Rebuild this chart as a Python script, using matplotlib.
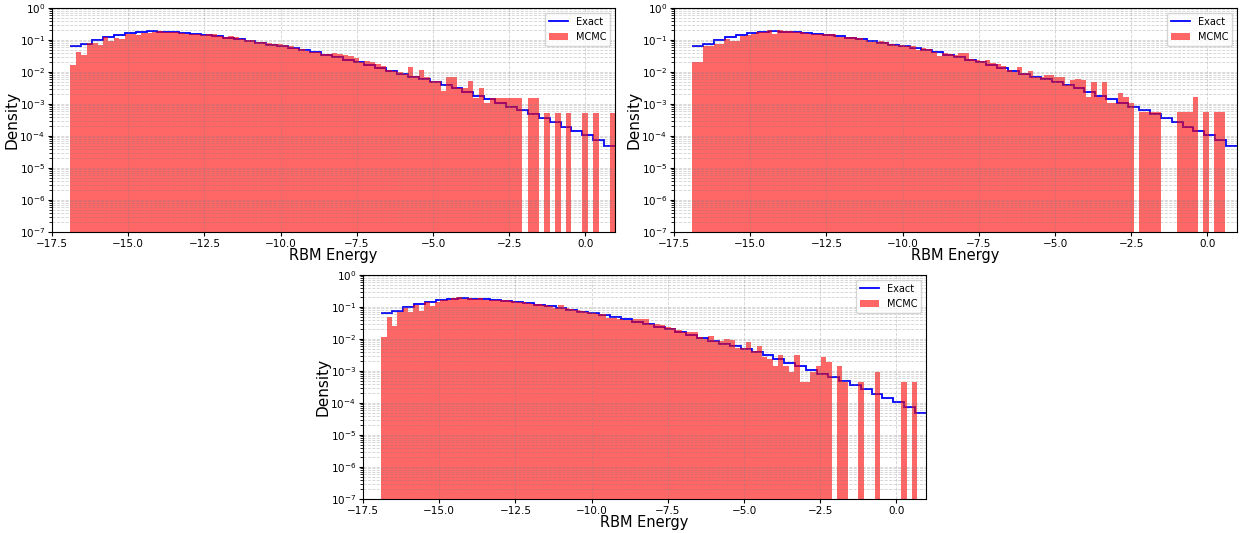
import numpy as np
import matplotlib
matplotlib.use("Agg")
import matplotlib.pyplot as plt

# energy range of the RBM (lowest state, highest state)
E_MIN = -16.9
E_MAX = 0.97

# exact Boltzmann density, 50 bins over [E_MIN, E_MAX]
exact_density = [
    0.063, 0.076, 0.098, 0.120, 0.148, 0.170, 0.182, 0.186, 0.182, 0.178,
    0.170, 0.158, 0.148, 0.132, 0.117, 0.110, 0.093, 0.083, 0.072, 0.063,
    0.055, 0.049, 0.042, 0.035, 0.029, 0.024, 0.020, 0.0166, 0.0132, 0.0107,
    0.0087, 0.0071, 0.0059, 0.0048, 0.0038, 0.0031, 0.0024, 0.0018, 0.00145, 0.0011,
    0.00083, 0.00063, 0.00049, 0.00037, 0.00027, 0.000195, 0.000141, 0.000105, 0.000076, 0.000047,
]

# MCMC sample counts, 100 bins over [E_MIN, max sampled energy] for each run
mcmc_max = [0.97, 0.56, 0.69]

mcmc_counts_1 = [
    31, 83, 66, 151, 158, 135, 229, 174, 224, 209,
    288, 301, 275, 324, 316, 331, 355, 339, 339, 331,
    316, 301, 301, 288, 275, 288, 301, 263, 240, 246,
    229, 209, 186, 186, 170, 162, 151, 148, 145, 132,
    120, 107, 98, 89, 83, 78, 72, 69, 76, 72,
    65, 60, 52, 38, 42, 38, 33, 29, 22, 21,
    19, 16, 27, 14, 22, 13, 10, 10, 5, 13,
    13, 6, 6, 10, 3, 6, 2, 3, 3, 3,
    3, 3, 3, 0, 3, 3, 0, 1, 0, 1,
    0, 1, 0, 0, 1, 0, 1, 0, 0, 1,
]

mcmc_counts_2 = [
    39, 39, 120, 120, 135, 141, 191, 174, 166, 245,
    263, 288, 316, 331, 363, 288, 363, 339, 339, 316,
    316, 302, 288, 288, 276, 276, 288, 234, 224, 234,
    224, 214, 178, 162, 155, 170, 155, 135, 129, 132,
    120, 115, 91, 100, 96, 76, 59, 72, 65, 63,
    71, 71, 46, 42, 40, 42, 36, 32, 29, 21,
    18, 26, 17, 20, 13, 13, 15, 15, 13, 13,
    7, 10, 11, 10, 3, 9, 3, 9, 2, 2,
    4, 3, 2, 0, 1, 1, 1, 1, 0, 0,
    0, 1, 1, 1, 3, 0, 1, 0, 1, 1,
]

mcmc_counts_3 = [
    24, 102, 54, 153, 195, 145, 246, 166, 302, 224,
    302, 347, 363, 398, 427, 380, 398, 380, 417, 363,
    363, 347, 347, 347, 331, 316, 302, 289, 272, 258,
    246, 224, 195, 246, 195, 186, 178, 162, 145, 138,
    132, 132, 100, 96, 91, 81, 81, 91, 87, 87,
    63, 63, 59, 50, 46, 42, 36, 36, 36, 24,
    21, 27, 19, 19, 22, 20, 11, 11, 17, 9,
    13, 6, 5, 3, 7, 3, 2, 7, 1, 1,
    2, 3, 6, 4, 0, 3, 1, 0, 0, 1,
    0, 0, 2, 0, 0, 0, 0, 1, 0, 1,
]

runs = [mcmc_counts_1, mcmc_counts_2, mcmc_counts_3]

W, H = 1251, 533
fig = plt.figure(figsize=(W / 100, H / 100), dpi=100)
# axes boxes in pixels: left, top, width, height
boxes = [(52, 8, 563, 224), (674, 8, 563, 224), (363, 275, 563, 224)]

exact_edges = np.linspace(E_MIN, E_MAX, len(exact_density) + 1)

for (l, t, w, h), counts, top in zip(boxes, runs, mcmc_max):
    ax = fig.add_axes([l / W, 1 - (t + h) / H, w / W, h / H])
    ax.set_yscale('log')

    # exact distribution as an outline, MCMC bars drawn on top of it
    ax.stairs(exact_density, exact_edges, baseline=None,
              color='blue', linewidth=1.3, label='Exact')

    edges = np.linspace(E_MIN, top, len(counts) + 1)
    centers = 0.5 * (edges[1:] + edges[:-1])
    ax.hist(centers, bins=edges, weights=counts, density=True,
            color='red', alpha=0.6, label='MCMC')

    ax.set_xlim(-17.5, E_MAX)
    ax.set_ylim(1e-7, 1)
    ax.set_yticks(10.0 ** np.arange(-7, 1))
    ax.set_xlabel('RBM Energy', fontsize=10.5, labelpad=-1)
    ax.set_ylabel('Density', fontsize=11, labelpad=0)
    ax.tick_params(labelsize=7.5, length=3, pad=2)
    ax.grid(True, which='both', ls='--', lw=0.6, color='gray', alpha=0.35)
    ax.legend(loc='upper right', fontsize=7)

fig.savefig('out.png', dpi=100)
